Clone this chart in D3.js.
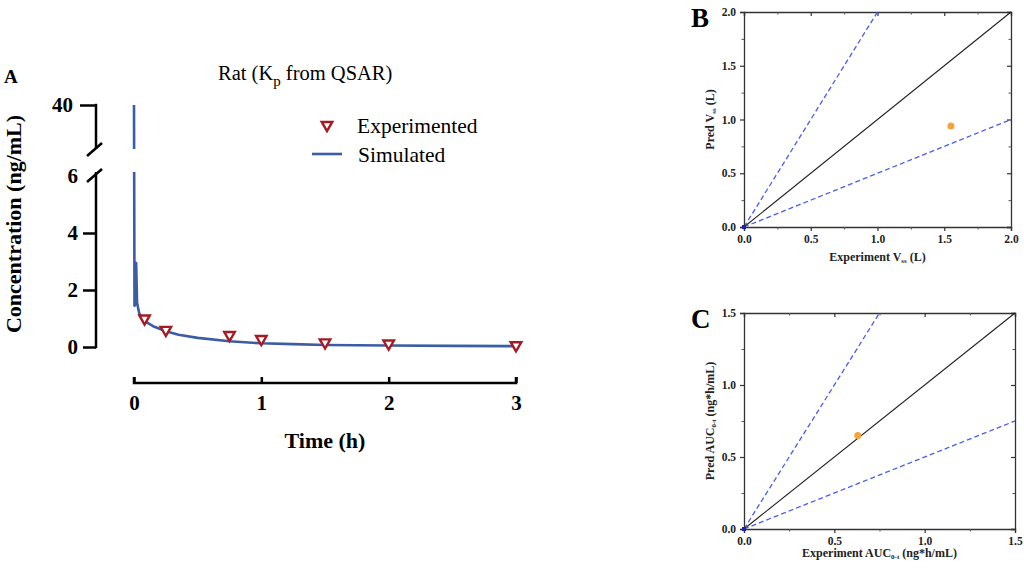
<!DOCTYPE html>
<html>
<head>
<meta charset="utf-8">
<script src="https://cdn.jsdelivr.net/npm/d3@7"></script>
<style>
  body { margin: 0; background: #fff; }
  svg { display: block; }
  svg text { font-family: "Liberation Serif", "Times New Roman", serif; }
  .tickA text { font-size: 21px; font-weight: bold; }
  .tickS text { font-size: 11.5px; font-weight: bold; fill: #222; }
</style>
</head>
<body>
<svg id="chart" width="1024" height="569"></svg>
<script>
// Panel A: simulated curve (time in h, concentration in ng/mL)
const simTime = [0, 0.004, 0.012, 0.017, 0.024, 0.04, 0.06, 0.083, 0.1, 0.15, 0.25, 0.35, 0.5, 0.75, 1, 1.25, 1.5, 2, 2.5, 3];
const simConc = [40, 1.45, 1.5, 2.95, 1.55, 1.2, 1.02, 0.92, 0.86, 0.73, 0.55, 0.43, 0.32, 0.2, 0.13, 0.1, 0.07, 0.05, 0.04, 0.03];
// Panel A: experimental points
const expTime = [0.083, 0.25, 0.75, 1, 1.5, 2, 3];
const expConc = [1.0, 0.6, 0.42, 0.28, 0.16, 0.12, 0.06];
const timeTicks = [0, 1, 2, 3];
const concTicksLow = [0, 2, 4];
const concTicksHigh = [40];

// Panel B / C: predicted vs experiment
const vssExp = [1.55];
const vssPred = [0.94];
const aucExp = [0.63];
const aucPred = [0.65];
const foldRatios = [2, 1, 0.5];

const svg = d3.select('#chart');

// ---------- Panel A ----------
const xA = d3.scaleLinear().domain([0, 3]).range([134, 516]);
const yLow = d3.scaleLinear().domain([0, 6]).range([347, 176]);
const yHigh = d3.scaleLinear().domain([6, 40]).range([160, 105]);
const yA = v => v > 6 ? yHigh(v) : yLow(v);
const axisXA = 96;
const breakTop = 149, breakBottom = 172;

const defs = svg.append('defs');
defs.append('clipPath').attr('id', 'clip-hi')
  .append('rect').attr('x', 0).attr('y', 0).attr('width', 600).attr('height', breakTop);
defs.append('clipPath').attr('id', 'clip-lo')
  .append('rect').attr('x', 0).attr('y', breakBottom).attr('width', 600).attr('height', 300);

svg.append('text').attr('x', 4).attr('y', 83)
  .attr('font-size', 19).attr('font-weight', 'bold').text('A');

const title = svg.append('text').attr('x', 218).attr('y', 80).attr('font-size', 20.5);
title.append('tspan').text('Rat (K');
title.append('tspan').attr('font-size', 15).attr('dy', 6).text('p');
title.append('tspan').attr('dy', -6).text(' from QSAR)');

// y axis, lower part
const gLow = svg.append('g').attr('class', 'tickA')
  .attr('transform', `translate(${axisXA},0)`)
  .call(d3.axisLeft(yLow).tickValues(concTicksLow).tickSize(13).tickPadding(5).tickFormat(d3.format('d')))
  .call(g => g.select('.domain').remove());
gLow.selectAll('.tick line').attr('stroke-width', 2.5);
gLow.append('text').attr('x', -18).attr('y', yLow(6)).attr('dy', '0.32em')
  .attr('text-anchor', 'end').attr('fill', '#000').text('6');

const gHigh = svg.append('g').attr('class', 'tickA')
  .attr('transform', `translate(${axisXA},0)`)
  .call(d3.axisLeft(yHigh).tickValues(concTicksHigh).tickSize(16).tickPadding(7).tickFormat(d3.format('d')))
  .call(g => g.select('.domain').remove());
gHigh.selectAll('.tick line').attr('stroke-width', 2.5);

svg.append('line').attr('x1', axisXA).attr('x2', axisXA)
  .attr('y1', yHigh(40) - 1.2).attr('y2', breakTop)
  .attr('stroke', '#000').attr('stroke-width', 2.5);
svg.append('line').attr('x1', axisXA).attr('x2', axisXA)
  .attr('y1', breakBottom).attr('y2', yLow(0) + 1.2)
  .attr('stroke', '#000').attr('stroke-width', 2.5);
// break marks
[breakTop, breakBottom + 3].forEach(yy => {
  svg.append('line').attr('x1', axisXA - 9).attr('y1', yy + 7)
    .attr('x2', axisXA + 6).attr('y2', yy - 6)
    .attr('stroke', '#000').attr('stroke-width', 2.5);
});

// x axis
const gx = svg.append('g').attr('class', 'tickA')
  .attr('transform', 'translate(0,383)')
  .call(d3.axisBottom(xA).tickValues(timeTicks).tickSize(-6).tickPadding(12).tickFormat(d3.format('d')))
  .call(g => g.select('.domain').attr('stroke-width', 2.5).attr('d', `M${xA(0)},-6V0H${xA(3)}V-6`));
gx.selectAll('.tick line').attr('stroke-width', 2.5);

svg.append('text').attr('x', 325).attr('y', 448).attr('text-anchor', 'middle')
  .attr('font-size', 22).attr('font-weight', 'bold').text('Time (h)');
svg.append('text').attr('transform', 'translate(21,224) rotate(-90)').attr('text-anchor', 'middle')
  .attr('font-size', 22).attr('font-weight', 'bold').text('Concentration (ng/mL)');

// simulated line
const simData = simTime.map((t, i) => ({ t, c: simConc[i] }));
const lineA = d3.line().x(d => xA(d.t)).y(d => yA(d.c));
['clip-hi', 'clip-lo'].forEach(id => {
  svg.append('path').datum(simData)
    .attr('clip-path', `url(#${id})`)
    .attr('d', lineA)
    .attr('fill', 'none').attr('stroke', '#3a5da6').attr('stroke-width', 2.6)
    .attr('stroke-linejoin', 'round');
});

// experimental points
const tri = d3.symbol(d3.symbolTriangle, 48);
svg.append('g').selectAll('path')
  .data(expTime.map((t, i) => ({ t, c: expConc[i] })))
  .join('path')
  .attr('d', tri)
  .attr('transform', d => `translate(${xA(d.t)},${yA(d.c)}) rotate(180)`)
  .attr('fill', '#fff').attr('stroke', '#a51b22').attr('stroke-width', 2.4);

// legend
svg.append('path').attr('d', tri)
  .attr('transform', 'translate(327,125) rotate(180)')
  .attr('fill', '#fff').attr('stroke', '#a51b22').attr('stroke-width', 2.4);
svg.append('text').attr('x', 357).attr('y', 133).attr('font-size', 21.5).text('Experimented');
svg.append('line').attr('x1', 312).attr('x2', 342).attr('y1', 154).attr('y2', 154)
  .attr('stroke', '#3a5da6').attr('stroke-width', 2.6);
svg.append('text').attr('x', 358).attr('y', 162).attr('font-size', 21.5).text('Simulated');

// ---------- Panels B / C ----------
function parity(cfg) {
  const x = d3.scaleLinear().domain([0, cfg.max]).range([cfg.left, cfg.right]);
  const y = d3.scaleLinear().domain([0, cfg.max]).range([cfg.bottom, cfg.top]);
  const majors = d3.range(0, cfg.max + 0.001, 0.5);
  const minors = d3.range(0.25, cfg.max, 0.5);
  const g = svg.append('g');

  g.append('text').attr('x', 691).attr('y', cfg.top + 15)
    .attr('font-size', 27).attr('font-weight', 'bold').text(cfg.letter);

  const fmt = d3.format('.1f');
  const ax = [
    [d3.axisBottom(x), `translate(0,${cfg.bottom})`, 4, 2.5, true],
    [d3.axisLeft(y), `translate(${cfg.left},0)`, 4, 2.5, true],
    [d3.axisTop(x), `translate(0,${cfg.top})`, -4, -2.5, false],
    [d3.axisRight(y), `translate(${cfg.right},0)`, -4, -2.5, false]
  ];
  ax.forEach(([axis, tr, big, small, lab]) => {
    const gm = g.append('g').attr('class', 'tickS').attr('transform', tr)
      .call(axis.tickValues(majors).tickSize(big).tickPadding(4)
        .tickFormat(lab ? fmt : () => ''));
    gm.select('.domain').attr('stroke', '#333').attr('stroke-width', 1.3);
    gm.selectAll('.tick line').attr('stroke', '#333').attr('stroke-width', 1.2);
    const gn = g.append('g').attr('transform', tr)
      .call(axis.tickValues(minors).tickSize(small).tickFormat(() => ''));
    gn.select('.domain').remove();
    gn.selectAll('.tick line').attr('stroke', '#555');
  });

  // fold lines
  foldRatios.forEach(r => {
    const xEnd = Math.min(cfg.max, cfg.max / r);
    g.append('line')
      .attr('x1', x(0)).attr('y1', y(0))
      .attr('x2', x(xEnd)).attr('y2', y(xEnd * r))
      .attr('stroke', r === 1 ? '#222' : '#4b5cf2')
      .attr('stroke-width', r === 1 ? 1.1 : 1.3)
      .attr('stroke-dasharray', r === 1 ? null : '5,3');
  });

  g.append('rect').attr('x', x(0) - 2).attr('y', y(0) - 2).attr('width', 4).attr('height', 4)
    .attr('fill', '#1a22a8');

  g.selectAll('circle.pt')
    .data(cfg.exp.map((v, i) => ({ e: v, p: cfg.pred[i] })))
    .join('circle')
    .attr('class', 'pt')
    .attr('cx', d => x(d.e)).attr('cy', d => y(d.p)).attr('r', 3.5)
    .attr('fill', '#f7a23a');

  const xl = g.append('text').attr('x', (cfg.left + cfg.right) / 2).attr('y', cfg.bottom + cfg.xlabGap)
    .attr('text-anchor', 'middle').attr('font-size', 12).attr('font-weight', 'bold').attr('fill', '#222');
  xl.append('tspan').text('Experiment ' + cfg.name);
  xl.append('tspan').attr('font-size', 7).attr('dy', 2).text(cfg.sub);
  xl.append('tspan').attr('dy', -2).text(' ' + cfg.unit);

  const yl = g.append('text')
    .attr('transform', `translate(714,${(cfg.top + cfg.bottom) / 2}) rotate(-90)`)
    .attr('text-anchor', 'middle').attr('font-size', 12).attr('font-weight', 'bold').attr('fill', '#222');
  yl.append('tspan').text('Pred ' + cfg.name);
  yl.append('tspan').attr('font-size', 7).attr('dy', 2).text(cfg.sub);
  yl.append('tspan').attr('dy', -2).text(' ' + cfg.unit);
}

parity({ letter: 'B', max: 2, left: 744, right: 1011, top: 12, bottom: 227,
  exp: vssExp, pred: vssPred, name: 'V', sub: 'ss', unit: '(L)', xlabGap: 34 });
parity({ letter: 'C', max: 1.5, left: 744, right: 1015, top: 313, bottom: 529,
  exp: aucExp, pred: aucPred, name: 'AUC', sub: '0-t', unit: '(ng*h/mL)', xlabGap: 28 });
</script>
</body>
</html>
